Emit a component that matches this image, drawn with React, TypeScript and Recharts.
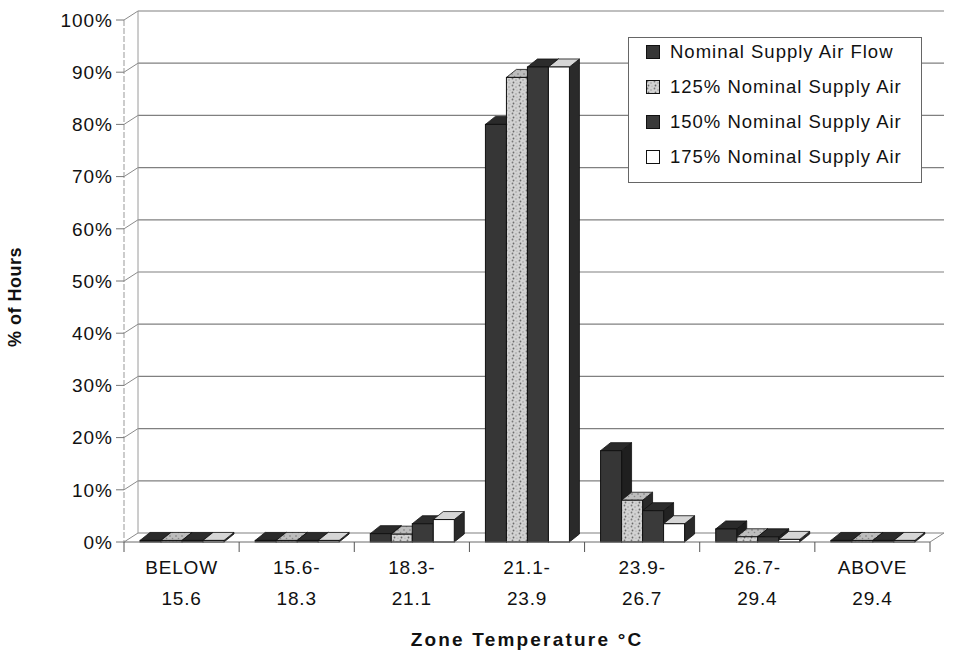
import { BarChart, Bar, XAxis, YAxis, CartesianGrid, Legend } from 'recharts';

// zone temperature bins, two lines each
const categories = [
  ['BELOW', '15.6'],
  ['15.6-', '18.3'],
  ['18.3-', '21.1'],
  ['21.1-', '23.9'],
  ['23.9-', '26.7'],
  ['26.7-', '29.4'],
  ['ABOVE', '29.4'],
];

// % of hours per bin
const nominal = [0.3, 0.3, 1.6, 80, 17.5, 2.5, 0.3];
const supply125 = [0.3, 0.3, 1.5, 89, 8, 1, 0.3];
const supply150 = [0.3, 0.3, 3.5, 91, 6, 1, 0.3];
const supply175 = [0.3, 0.3, 4.3, 91, 3.5, 0.5, 0.3];

const yTicks = [0, 10, 20, 30, 40, 50, 60, 70, 80, 90, 100];

const seriesNames = [
  'Nominal Supply Air Flow',
  '125% Nominal Supply Air',
  '150% Nominal Supply Air',
  '175% Nominal Supply Air',
];

const data = categories.map((c, i) => ({
  name: c.join(' '),
  lines: c,
  nominal: nominal[i],
  s125: supply125[i],
  s150: supply150[i],
  s175: supply175[i],
}));

const FONT = '"Liberation Sans", Arial, sans-serif';
const W = 955;
const H = 652;
const LEFT = 124;
const RIGHT = 930;
const TOP = 20;
const BOTTOM = 542;
const BAND = (RIGHT - LEFT) / categories.length;
// wall depth and bar depth for the fake 3D look
const WDX = 14;
const WDY = 9;
const BDX = 10;
const BDY = 8;

const styles = [
  { front: '#363636', top: '#2a2a2a', side: '#1f1f1f' },
  { front: 'url(#speckle)', top: 'url(#speckleTop)', side: '#2a2a2a' },
  { front: '#3a3a3a', top: '#2c2c2c', side: '#222' },
  { front: '#ffffff', top: '#d6d6d6', side: '#2a2a2a' },
];

const bar3d = (s: { front: string; top: string; side: string }) => (p: any) => {
  const { x, y, width: w, height: h } = p;
  if (w == null || h == null) return <g />;
  const topPts = `${x},${y} ${x + BDX},${y - BDY} ${x + w + BDX},${y - BDY} ${x + w},${y}`;
  const sidePts = `${x + w},${y} ${x + w + BDX},${y - BDY} ${x + w + BDX},${y + h - BDY} ${x + w},${y + h}`;
  return (
    <g>
      <polygon points={sidePts} fill={s.side} stroke="#111" strokeWidth={0.8} />
      <polygon points={topPts} fill={s.top} stroke="#111" strokeWidth={0.8} />
      <rect x={x} y={y} width={w} height={h} fill={s.front} stroke="#111" strokeWidth={1} />
    </g>
  );
};

const gridLine = (p: any) => {
  const x1 = p.x1;
  const y1 = p.y1;
  const x2 = p.x2;
  const top = p.y ?? TOP;
  const bottom = top + (p.height ?? BOTTOM - TOP);
  const isTop = Math.abs(y1 - top) < 0.5;
  const isBottom = Math.abs(y1 - bottom) < 0.5;
  return (
    <g key={p.key ?? `g-${y1}`}>
      <line x1={x1} y1={y1} x2={x1 + WDX} y2={y1 - WDY} stroke="#8a8a8a" strokeWidth={1} />
      <line x1={x1 + WDX} y1={y1 - WDY} x2={x2 + WDX} y2={y1 - WDY} stroke="#808080" strokeWidth={1.2} />
      {isTop && (
        <line x1={x1 + WDX} y1={y1 - WDY} x2={x1 + WDX} y2={bottom - WDY} stroke="#9a9a9a" strokeWidth={1} />
      )}
      {isBottom && (
        <line x1={x2} y1={y1} x2={x2 + WDX} y2={y1 - WDY} stroke="#8a8a8a" strokeWidth={1} />
      )}
    </g>
  );
};

const XTick = (p: any) => {
  const { x, y, index } = p;
  const lines = categories[index] ?? ['', ''];
  const last = index === categories.length - 1;
  return (
    <g>
      <line x1={x - BAND / 2} y1={y} x2={x - BAND / 2} y2={y + 10} stroke="#555" />
      {last && <line x1={x + BAND / 2} y1={y} x2={x + BAND / 2} y2={y + 10} stroke="#555" />}
      <text x={x} y={y + 32} textAnchor="middle" fill="#111" fontSize={19} letterSpacing={0.8} fontFamily={FONT}>
        {lines[0]}
      </text>
      <text x={x} y={y + 63} textAnchor="middle" fill="#111" fontSize={19} letterSpacing={0.8} fontFamily={FONT}>
        {lines[1]}
      </text>
    </g>
  );
};

const Swatch = ({ i }: { i: number }) => (
  <svg width={14} height={14} style={{ position: 'absolute', left: 17, top: 6 }}>
    <rect x={0.5} y={0.5} width={13} height={13} fill={i === 1 ? 'url(#speckle)' : styles[i].front} stroke="#111" />
  </svg>
);

const LegendBox = () => (
  <div
    style={{
      position: 'relative',
      width: 294,
      height: 146,
      boxSizing: 'border-box',
      border: '1px solid #666',
      background: '#fff',
      fontFamily: FONT,
      fontSize: 18.5,
      letterSpacing: 1,
      color: '#111',
    }}
  >
    {seriesNames.map((n, i) => (
      <div key={n} style={{ position: 'absolute', left: 0, top: 1 + i * 35, height: 26, width: 290 }}>
        <Swatch i={i} />
        <span style={{ position: 'absolute', left: 41, top: 1, lineHeight: '24px', whiteSpace: 'nowrap' }}>{n}</span>
      </div>
    ))}
  </div>
);

export default function App() {
  return (
    <div style={{ position: 'absolute', left: 0, top: 0, width: W, height: H, background: '#fff' }}>
      <BarChart
        width={W}
        height={H}
        data={data}
        margin={{ top: TOP, right: W - RIGHT, bottom: 4, left: 0 }}
        barSize={21}
        barGap={0}
      >
        <defs>
          <pattern id="speckle" width="7" height="7" patternUnits="userSpaceOnUse">
            <rect width="7" height="7" fill="#d2d2d2" />
            <circle cx="1.5" cy="1.5" r="0.9" fill="#777" />
            <circle cx="5" cy="3" r="0.8" fill="#999" />
            <circle cx="2.5" cy="5.5" r="0.9" fill="#6a6a6a" />
            <circle cx="6" cy="6.2" r="0.6" fill="#aaa" />
          </pattern>
          <pattern id="speckleTop" width="6" height="6" patternUnits="userSpaceOnUse">
            <rect width="6" height="6" fill="#bdbdbd" />
            <circle cx="2" cy="2" r="0.8" fill="#777" />
            <circle cx="4.5" cy="4.5" r="0.8" fill="#888" />
          </pattern>
        </defs>
        <CartesianGrid horizontal={gridLine} vertical={false} />
        <XAxis
          dataKey="name"
          interval={0}
          tickLine={false}
          tickSize={0}
          tickMargin={0}
          height={106}
          axisLine={{ stroke: '#6a6a6a' }}
          tick={<XTick />}
          label={{
            value: 'Zone Temperature °C',
            position: 'insideBottom',
            offset: 2,
            fill: '#111',
            fontSize: 19,
            fontWeight: 'bold',
            letterSpacing: 2.2,
            fontFamily: FONT,
          }}
        />
        <YAxis
          width={LEFT}
          domain={[0, 100]}
          ticks={yTicks}
          interval={0}
          tickFormatter={(v: number) => `${v}%`}
          tickSize={8}
          tickMargin={3}
          tickLine={{ stroke: '#777' }}
          axisLine={{ stroke: '#999', strokeDasharray: '6 2' }}
          tick={{ fill: '#111', fontSize: 19, letterSpacing: 1, fontFamily: FONT }}
          label={{
            content: () => (
              <text
                x={21}
                y={297}
                transform="rotate(-90, 21, 297)"
                textAnchor="middle"
                fill="#111"
                fontSize={18}
                fontWeight="bold"
                letterSpacing={0.5}
                fontFamily={FONT}
              >
                % of Hours
              </text>
            ),
          }}
        />
        <Bar dataKey="nominal" name={seriesNames[0]} fill="#363636" shape={bar3d(styles[0])} isAnimationActive={false} />
        <Bar dataKey="s125" name={seriesNames[1]} fill="#d2d2d2" shape={bar3d(styles[1])} isAnimationActive={false} />
        <Bar dataKey="s150" name={seriesNames[2]} fill="#3a3a3a" shape={bar3d(styles[2])} isAnimationActive={false} />
        <Bar dataKey="s175" name={seriesNames[3]} fill="#ffffff" shape={bar3d(styles[3])} isAnimationActive={false} />
        <Legend
          layout="horizontal"
          verticalAlign="middle"
          align="center"
          content={() => <LegendBox />}
          wrapperStyle={{ left: 628, top: 37, width: 294, height: 146 }}
        />
      </BarChart>
    </div>
  );
}
